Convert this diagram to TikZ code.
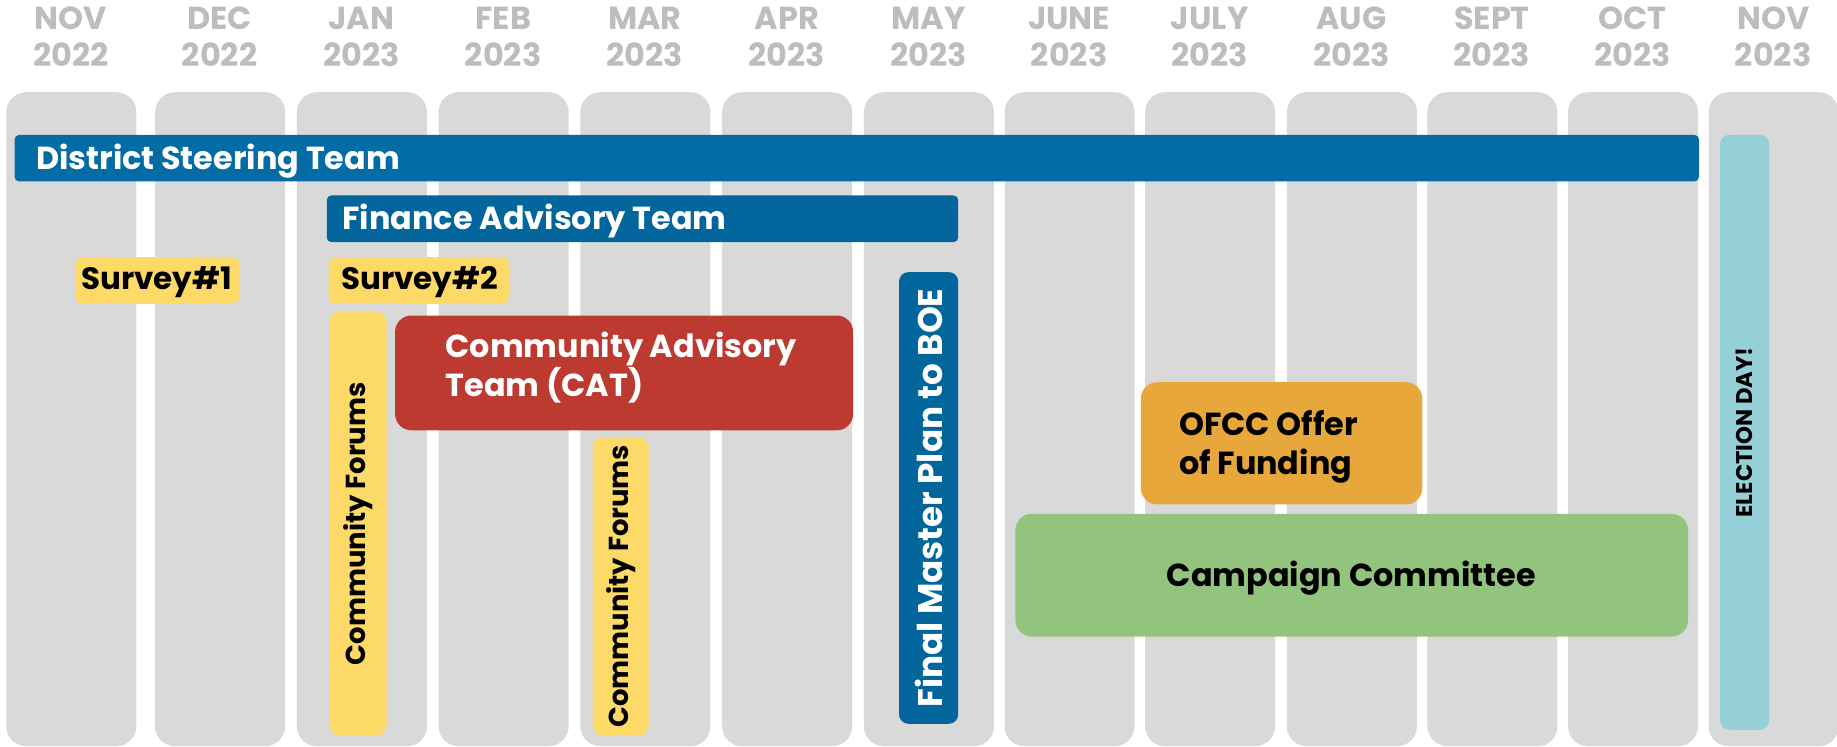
\documentclass[tikz,border=0pt]{standalone}
\usepackage{fontspec}
\setmainfont{Poppins}
\usepackage{xcolor}
\usepackage{tikz}
\usetikzlibrary{positioning,calc}

\definecolor{colgray}{HTML}{D9D9D9}
\definecolor{headgray}{HTML}{BDBDBD}
\definecolor{dstblue}{HTML}{036CA4}
\definecolor{finblue}{HTML}{02659B}
\definecolor{survyellow}{HTML}{FDD967}
\definecolor{catred}{HTML}{BD3A31}
\definecolor{ofccorange}{HTML}{E7A73B}
\definecolor{campgreen}{HTML}{93C47D}
\definecolor{electeal}{HTML}{95D0D8}

\tikzset{
	monthcol/.style={rectangle,fill=colgray,rounded corners=8.5pt,inner sep=0pt,anchor=north west,
		minimum width=55.5pt,minimum height=279.1pt},
	headtxt/.style={anchor=base,text=headgray,font=\fontsize{13.6}{14}\selectfont\bfseries,inner sep=0pt},
	bar/.style={rectangle,inner sep=0pt,anchor=north west,rounded corners=2pt},
	bartxt/.style={anchor=base west,inner sep=0pt,text=white,font=\fontsize{13.6}{16}\selectfont\bfseries},
	poptxt/.style={inner sep=0pt,font=\fontsize{13.2}{15}\selectfont\bfseries},
}

\begin{document}
\begin{tikzpicture}[x=0.5pt,y=-0.5pt]
	\useasboundingbox (0,0) rectangle (1568,637);
	% month columns and headers
	\foreach \xl/\mon/\yr [count=\i] in {5/NOV/2022,132/DEC/2022,253/JAN/2023,374/FEB/2023,
		495/MAR/2023,616/APR/2023,737/MAY/2023,857/JUNE/2023,977/JULY/2023,
		1098/AUG/2023,1218/SEPT/2023,1338/OCT/2023,1458/NOV/2023}{
		\node[monthcol] (col\i) at (\xl,78.3) {};
		\node[headtxt] (mon\i) at (\xl+55.5,25.5) {\mon};
		\node[headtxt] (yr\i) at (\xl+55.5,57) {\yr};
	}
	% teams
	\node[bar,fill=dstblue,minimum width=718.9pt,minimum height=19.9pt] (dst) at (12,114.7) {};
	\node[bartxt] (dsttxt) at (30.4,145) {District Steering Team};
	\node[bar,fill=finblue,minimum width=269.5pt,minimum height=19.95pt] (fin) at (278.5,166.4) {};
	\node[bartxt] (fintxt) at (292,196.3) {Finance Advisory Team};
	% surveys
	\node[bar,fill=survyellow,rounded corners=3pt,minimum width=70pt,minimum height=20pt] (surv1) at (64,219) {};
	\node[poptxt,anchor=base west] (surv1txt) at (69,247.5) {Survey\#1};
	\node[bar,fill=survyellow,rounded corners=3pt,minimum width=77pt,minimum height=20pt] (surv2) at (280,219) {};
	\node[poptxt,anchor=base west] (surv2txt) at (291,247.5) {Survey\#2};
	% forums
	\node[bar,fill=survyellow,rounded corners=4.25pt,minimum width=24.35pt,minimum height=180.7pt] (cf1) at (280.8,266) {};
	\node[poptxt,rotate=90,font=\fontsize{11.7}{14}\selectfont\bfseries] (cf1txt) at (cf1.center) {Community Forums};
	\node[bar,fill=survyellow,rounded corners=4.25pt,minimum width=23.85pt,minimum height=127.35pt] (cf2) at (505.6,372.7) {};
	\node[poptxt,rotate=90,font=\fontsize{11.7}{14}\selectfont\bfseries] (cf2txt) at (cf2.center) {Community Forums};
	% CAT
	\node[bar,fill=catred,rounded corners=7pt,minimum width=195.5pt,minimum height=49pt] (cat) at (336.8,268.9) {};
	\node[bartxt] (cattxt1) at (380,305) {Community Advisory};
	\node[bartxt] (cattxt2) at (380,338.6) {Team (CAT)};
	% master plan
	\node[bar,fill=finblue,rounded corners=4pt,minimum width=25.25pt,minimum height=192.75pt] (fmp) at (767,231.9) {};
	\node[poptxt,rotate=90,text=white,font=\fontsize{14.6}{16}\selectfont\bfseries] (fmptxt) at (fmp.center) {Final Master Plan to BOE};
	% funding and campaign
	\node[bar,fill=ofccorange,rounded corners=7pt,minimum width=120.1pt,minimum height=52.2pt] (ofcc) at (973.4,325.8) {};
	\node[bartxt,text=black] (ofcctxt1) at (1006,372.1) {OFCC Offer};
	\node[bartxt,text=black] (ofcctxt2) at (1006,405.4) {of Funding};
	\node[bar,fill=campgreen,rounded corners=7pt,minimum width=287.1pt,minimum height=52.35pt] (camp) at (866.3,438.2) {};
	\node[bartxt,text=black,anchor=base] (camptxt) at (1153.4,500.7) {Campaign Committee};
	% election
	\node[bar,fill=electeal,rounded corners=4pt,minimum width=21pt,minimum height=253.9pt] (elec) at (1467.8,114.7) {};
	\node[poptxt,rotate=90,font=\fontsize{9.7}{12}\selectfont\bfseries] (electxt) at (elec.center) {ELECTION DAY!};
\end{tikzpicture}
\end{document}
